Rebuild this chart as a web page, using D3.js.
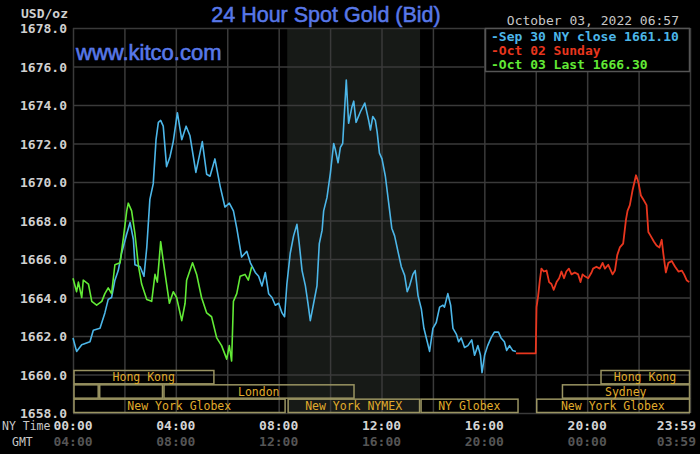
<!DOCTYPE html>
<html>
<head>
<meta charset="utf-8">
<script src="https://cdn.jsdelivr.net/npm/d3@7"></script>
<style>
  html, body { margin: 0; padding: 0; background: #000; }
  svg { display: block; }
</style>
</head>
<body>
<div id="chart"></div>
<script>
// [hour of NY day, price]
const sep30 = [
  [0.00,1661.9],[0.14,1661.2],[0.34,1661.55],[0.66,1661.7],[0.79,1662.3],[1.05,1662.4],
  [1.24,1663.2],[1.37,1663.9],[1.50,1664.0],[1.63,1664.9],[1.76,1665.4],[1.89,1666.3],
  [2.09,1667.3],[2.22,1667.9],[2.35,1667.0],[2.41,1665.7],[2.61,1665.6],[2.76,1665.1],
  [2.87,1666.6],[2.99,1669.1],[3.12,1669.9],[3.23,1672.2],[3.32,1673.1],[3.41,1673.2],
  [3.51,1672.9],[3.64,1670.8],[3.77,1671.3],[3.90,1672.1],[4.06,1673.6],[4.23,1672.2],
  [4.40,1672.9],[4.55,1672.4],[4.78,1670.5],[5.03,1672.1],[5.20,1670.4],[5.33,1670.3],
  [5.52,1671.2],[5.72,1669.8],[5.91,1668.7],[6.08,1668.9],[6.24,1668.5],[6.37,1667.6],
  [6.56,1666.1],[6.76,1666.4],[6.90,1665.8],[7.09,1665.3],[7.22,1665.1],[7.35,1664.6],
  [7.48,1665.3],[7.61,1664.2],[7.74,1664.0],[7.87,1663.6],[8.00,1663.7],[8.13,1663.2],
  [8.23,1663.0],[8.32,1664.7],[8.45,1666.3],[8.58,1667.2],[8.71,1667.8],[8.80,1666.8],
  [8.91,1665.4],[9.04,1664.6],[9.14,1663.7],[9.23,1662.8],[9.36,1663.7],[9.49,1664.6],
  [9.58,1666.8],[9.69,1667.5],[9.75,1668.5],[9.88,1669.2],[10.01,1670.45],[10.14,1672.0],
  [10.20,1671.7],[10.31,1671.0],[10.40,1671.8],[10.49,1672.0],[10.57,1673.9],[10.63,1675.3],
  [10.72,1673.05],[10.85,1673.9],[10.92,1674.2],[11.01,1673.1],[11.18,1673.65],[11.35,1674.1],
  [11.50,1673.2],[11.57,1672.7],[11.66,1673.4],[11.76,1673.2],[11.83,1672.6],[11.92,1671.5],
  [12.02,1671.2],[12.15,1670.3],[12.28,1668.9],[12.40,1667.6],[12.51,1667.2],[12.64,1666.4],
  [12.77,1665.6],[12.90,1665.15],[13.00,1664.3],[13.09,1664.6],[13.22,1665.2],[13.31,1665.4],
  [13.42,1664.1],[13.55,1663.4],[13.65,1662.4],[13.78,1661.7],[13.87,1661.2],[14.00,1662.4],
  [14.13,1662.7],[14.26,1663.5],[14.39,1663.6],[14.45,1663.5],[14.58,1664.2],[14.69,1663.6],
  [14.78,1662.4],[14.91,1662.1],[15.00,1661.7],[15.10,1661.9],[15.23,1661.4],[15.36,1661.5],
  [15.51,1661.8],[15.62,1661.0],[15.75,1661.5],[15.85,1661.0],[15.91,1660.1],[16.01,1661.0],
  [16.13,1661.5],[16.26,1661.9],[16.39,1662.2],[16.55,1662.2],[16.65,1661.9],[16.78,1661.7],
  [16.87,1661.25],[16.98,1661.5],[17.10,1661.25],[17.23,1661.2]
];

const oct02 = [
  [17.23,1661.1],[18.00,1661.1],[18.03,1663.5],[18.09,1664.05],[18.16,1664.9],[18.22,1665.5],
  [18.31,1665.35],[18.42,1665.4],[18.52,1664.8],[18.61,1664.7],[18.70,1664.4],[18.81,1664.8],
  [18.91,1665.0],[19.00,1665.35],[19.10,1665.0],[19.19,1665.35],[19.29,1665.5],[19.39,1665.2],
  [19.52,1665.3],[19.65,1665.2],[19.74,1664.8],[19.82,1665.2],[19.91,1665.1],[20.04,1665.0],
  [20.17,1665.3],[20.23,1665.5],[20.36,1665.6],[20.49,1665.5],[20.60,1665.8],[20.69,1665.5],
  [20.82,1665.7],[20.99,1665.2],[21.08,1665.4],[21.17,1666.2],[21.27,1666.6],[21.40,1666.8],
  [21.51,1668.05],[21.57,1668.5],[21.66,1668.8],[21.77,1669.6],[21.90,1670.35],[21.99,1670.0],
  [22.09,1669.3],[22.18,1669.1],[22.31,1668.8],[22.38,1667.4],[22.47,1667.2],[22.60,1666.9],
  [22.70,1666.7],[22.81,1666.6],[22.90,1667.0],[22.96,1666.3],[23.06,1665.3],[23.16,1665.8],
  [23.29,1665.9],[23.42,1665.6],[23.55,1665.35],[23.68,1665.4],[23.77,1665.2],[23.87,1664.9],
  [23.97,1664.8]
];

const oct03 = [
  [0.00,1665.0],[0.14,1664.3],[0.21,1664.8],[0.34,1664.0],[0.40,1664.9],[0.60,1664.7],
  [0.73,1663.8],[0.92,1663.6],[1.12,1663.8],[1.24,1664.2],[1.37,1664.5],[1.50,1664.2],
  [1.63,1665.7],[1.83,1665.8],[1.96,1667.1],[2.09,1668.5],[2.15,1668.9],[2.28,1668.5],
  [2.41,1667.3],[2.54,1665.7],[2.67,1664.7],[2.87,1663.9],[3.06,1663.8],[3.19,1665.2],
  [3.28,1664.8],[3.41,1666.9],[3.51,1665.9],[3.64,1664.7],[3.75,1663.7],[3.90,1664.3],
  [4.03,1664.0],[4.23,1662.8],[4.36,1663.7],[4.42,1664.9],[4.65,1665.8],[4.81,1665.2],
  [5.00,1664.0],[5.20,1663.2],[5.39,1663.0],[5.59,1661.9],[5.78,1661.5],[5.98,1660.8],
  [6.08,1661.5],[6.17,1660.7],[6.24,1663.8],[6.37,1664.2],[6.50,1665.1],[6.69,1665.2],
  [6.82,1664.9],[6.95,1665.6]
];

const legendItems = ["Sep 30 NY close 1661.10", "Oct 02 Sunday", "Oct 03 Last 1666.30"];
const nyTicks = [0, 4, 8, 12, 16, 20, 24];
const nyLabels = ["00:00", "04:00", "08:00", "12:00", "16:00", "20:00", "23:59"];
const gmtLabels = ["04:00", "08:00", "12:00", "16:00", "20:00", "00:00", "03:59"];
const priceTicks = d3.range(1658, 1679, 2);
const nymexHours = [8 + 20 / 60, 13.5];

const markets = [
  {name: "Hong Kong", row: 0, start: 0, end: 5.5},
  {name: "Hong Kong", row: 0, start: 20.5, end: 24},
  {name: "", row: 1, start: 0, end: 1},
  {name: "", row: 1, start: 1, end: 3.5},
  {name: "London", row: 1, start: 3.5, end: 10.95},
  {name: "Sydney", row: 1, start: 19, end: 24},
  {name: "New York Globex", row: 2, start: 0, end: 8.27},
  {name: "New York NYMEX", row: 2, start: 8.33, end: 13.5},
  {name: "NY Globex", row: 2, start: 13.5, end: 17.33},
  {name: "New York Globex", row: 2, start: 18, end: 24}
];

const W = 700, H = 454;
const M = {left: 73, right: 690, top: 28, bottom: 413};
const mono = "'DejaVu Sans Mono', monospace";
const sans = "'Liberation Sans', Arial, sans-serif";
const gridColor = "#3a3a3a";
const colors = ["#4cb6e8", "#e8361e", "#62ea36"];

const x = d3.scaleLinear().domain([0, 24]).range([M.left, M.right]);
const y = d3.scaleLinear().domain([1658, 1678]).range([M.bottom, M.top]);
const rowY = d3.scaleBand().domain([0, 1, 2]).range([370, M.bottom]);

const svg = d3.select("#chart").append("svg")
  .attr("width", W).attr("height", H);

svg.append("rect").attr("width", W).attr("height", H).attr("fill", "#000");

// NYMEX session shading
svg.append("rect")
  .attr("x", x(nymexHours[0])).attr("y", M.top)
  .attr("width", x(nymexHours[1]) - x(nymexHours[0]))
  .attr("height", M.bottom - M.top)
  .attr("fill", "#171a17");

// grid
svg.append("g").selectAll("line").data(d3.range(0, 25, 2)).join("line")
  .attr("x1", d => x(d) + 0.5).attr("x2", d => x(d) + 0.5)
  .attr("y1", M.top).attr("y2", M.bottom)
  .attr("stroke", gridColor).attr("stroke-width", 1.5);
svg.append("g").selectAll("line").data(priceTicks).join("line")
  .attr("x1", M.left).attr("x2", M.right)
  .attr("y1", d => y(d) + 0.5).attr("y2", d => y(d) + 0.5)
  .attr("stroke", gridColor).attr("stroke-width", 1.5);

// market session boxes
const mk = svg.append("g").selectAll("g").data(markets).join("g");
mk.append("rect")
  .attr("x", d => x(d.start) + 1).attr("y", d => rowY(d.row) + 0.5)
  .attr("width", d => x(d.end) - x(d.start) - 1.5)
  .attr("height", rowY.bandwidth() - 1)
  .attr("fill", "none").attr("stroke", "#9a9462").attr("stroke-width", 1.5);
mk.append("text")
  .attr("x", d => (x(d.start) + x(d.end)) / 2)
  .attr("y", d => rowY(d.row) + rowY.bandwidth() / 2 + 4)
  .attr("text-anchor", "middle")
  .attr("font-family", mono).attr("font-size", 11.5)
  .attr("fill", "#e0ac2c")
  .text(d => d.name);

// price lines
const line = d3.line().x(d => x(d[0])).y(d => y(d[1]));
[sep30, oct02, oct03].forEach((s, i) => {
  svg.append("path").datum(s)
    .attr("d", line)
    .attr("fill", "none")
    .attr("stroke", colors[i])
    .attr("stroke-width", i === 1 ? 1.8 : 1.6)
    .attr("stroke-linejoin", "round");
});

// y axis labels
svg.append("g").selectAll("text").data(priceTicks).join("text")
  .attr("x", 67).attr("y", d => y(d) + 5)
  .attr("text-anchor", "end")
  .attr("font-family", mono).attr("font-size", 13).attr("font-weight", "bold")
  .attr("fill", "#d0d0d0")
  .text(d => d3.format(".1f")(d));
svg.append("text").attr("x", 68).attr("y", 18).attr("text-anchor", "end")
  .attr("font-family", mono).attr("font-size", 13).attr("font-weight", "bold")
  .attr("fill", "#d0d0d0").text("USD/oz");

// x axis labels
const last = nyTicks.length - 1;
const xl = svg.append("g").selectAll("g").data(nyTicks).join("g");
xl.append("text")
  .attr("x", (d, i) => i === last ? x(d) + 6 : x(d))
  .attr("y", 430)
  .attr("text-anchor", (d, i) => i === last ? "end" : "middle")
  .attr("font-family", mono).attr("font-size", 13).attr("font-weight", "bold")
  .attr("fill", "#d4d4d4")
  .text((d, i) => nyLabels[i]);
xl.append("text")
  .attr("x", (d, i) => i === last ? x(d) + 6 : x(d))
  .attr("y", 446)
  .attr("text-anchor", (d, i) => i === last ? "end" : "middle")
  .attr("font-family", mono).attr("font-size", 13).attr("font-weight", "bold")
  .attr("fill", "#555")
  .text((d, i) => gmtLabels[i]);
svg.append("text").attr("x", 2).attr("y", 430)
  .attr("font-family", mono).attr("font-size", 11.5).attr("fill", "#c8c8c8").text("NY Time");
svg.append("text").attr("x", 12).attr("y", 446)
  .attr("font-family", mono).attr("font-size", 11.5).attr("fill", "#c8c8c8").text("GMT");

// titles
svg.append("text").attr("x", 326).attr("y", 22).attr("text-anchor", "middle")
  .attr("font-family", sans).attr("font-size", 21.5)
  .attr("fill", "#5878e8").attr("stroke", "#5878e8").attr("stroke-width", 0.5)
  .text("24 Hour Spot Gold (Bid)");
svg.append("text").attr("x", 76).attr("y", 59.5)
  .attr("font-family", sans).attr("font-size", 22)
  .attr("fill", "#5878e8").attr("stroke", "#5878e8").attr("stroke-width", 0.6)
  .text("www.kitco.com");
svg.append("text").attr("x", 679).attr("y", 25).attr("text-anchor", "end")
  .attr("font-family", mono).attr("font-size", 13)
  .attr("fill", "#c8c8c8").text("October 03, 2022 06:57");

// legend
const lg = svg.append("g");
lg.append("rect").attr("x", 485.5).attr("y", 28.5).attr("width", 204).attr("height", 43)
  .attr("fill", "#000").attr("stroke", "#555").attr("stroke-width", 1.5);
lg.selectAll("text").data(legendItems).join("text")
  .attr("x", 491).attr("y", (d, i) => 40.5 + i * 14)
  .attr("font-family", mono).attr("font-size", 13).attr("font-weight", "bold")
  .attr("fill", (d, i) => colors[i])
  .text(d => "-" + d);
</script>
</body>
</html>
